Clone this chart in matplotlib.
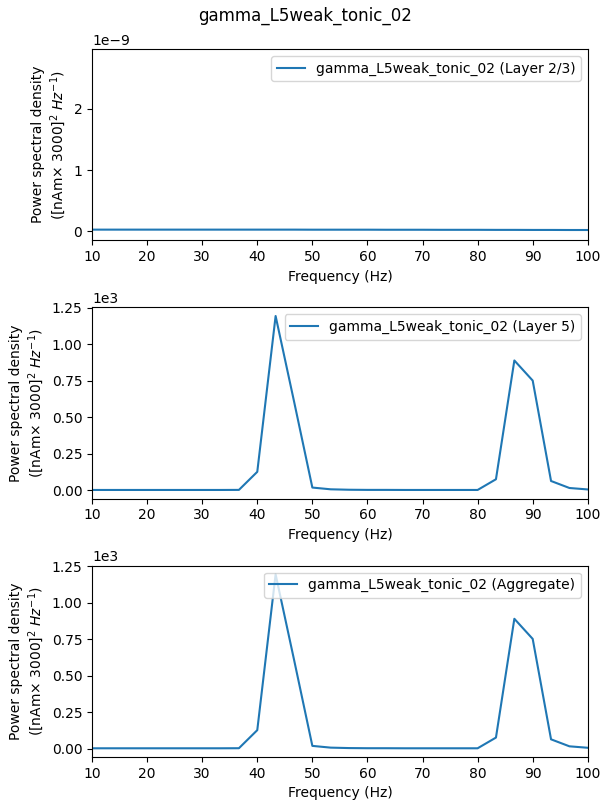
import numpy as np
import matplotlib
matplotlib.use("Agg")
import matplotlib.pyplot as plt

title = "gamma_L5weak_tonic_02"
freqs = [10.0, 13.33, 16.67, 20.0, 23.33, 26.67, 30.0, 33.33, 36.67, 40.0,
         43.33, 46.67, 50.0, 53.33, 56.67, 60.0, 63.33, 66.67, 70.0, 73.33,
         76.67, 80.0, 83.33, 86.67, 90.0, 93.33, 96.67, 100.0]
layer23 = [2.6e-11, 2.6e-11, 2.6e-11, 2.6e-11, 2.6e-11, 2.6e-11, 2.6e-11, 2.6e-11,
           2.6e-11, 2.6e-11, 2.6e-11, 2.6e-11, 2.5e-11, 2.5e-11, 2.5e-11, 2.5e-11,
           2.4e-11, 2.4e-11, 2.4e-11, 2.3e-11, 2.3e-11, 2.3e-11, 2.2e-11, 2.2e-11,
           2.1e-11, 2.1e-11, 2.0e-11, 2.0e-11]
layer5 = [1.5, 1.5, 1.5, 1.5, 1.5, 1.5, 1.5, 1.5, 2.0, 126.0,
          1195.0, 610.0, 18.0, 6.0, 3.0, 2.0, 2.0, 1.5, 1.5, 1.5,
          1.5, 1.5, 75.0, 890.0, 752.0, 63.0, 15.0, 5.0]
aggregate = [1.5, 1.5, 1.5, 1.5, 1.5, 1.5, 1.5, 1.5, 2.0, 126.0,
             1195.0, 610.0, 18.0, 6.0, 3.0, 2.0, 2.0, 1.5, 1.5, 1.5,
             1.5, 1.5, 75.0, 890.0, 752.0, 63.0, 15.0, 5.0]
layer23_ylim = (-0.149e-9, 2.98e-9)

series = [(layer23, "Layer 2/3"), (layer5, "Layer 5"), (aggregate, "Aggregate")]

fig, axes = plt.subplots(3, 1, figsize=(6.11, 8.11), dpi=100)
fig.subplots_adjust(left=0.1506, right=0.962, top=0.9396, bottom=0.0666, hspace=0.35)
fig.suptitle(title, fontsize=12, y=0.992)

ylabel = "Power spectral density\n([nAm$\\times$ 3000]$^{2}$ $Hz^{-1}$)"
for ax, (vals, name) in zip(axes, series):
    ax.plot(freqs, vals, color="#1f77b4", label=f"{title} ({name})")
    ax.set_xlim(10, 100)
    ax.set_xlabel("Frequency (Hz)")
    ax.set_ylabel(ylabel)
    ax.legend(loc="upper right")
    ax.ticklabel_format(axis="y", style="sci", scilimits=(0, 0))

axes[0].set_ylim(*layer23_ylim)
axes[0].set_yticks([0, 1e-9, 2e-9])
axes[1].set_yticks([0, 250, 500, 750, 1000, 1250])
axes[2].set_yticks([0, 250, 500, 750, 1000, 1250])
for ax in axes[1:]:
    ax.ticklabel_format(axis="y", style="sci", scilimits=(3, 3))

fig.savefig("out.png", dpi=100)
